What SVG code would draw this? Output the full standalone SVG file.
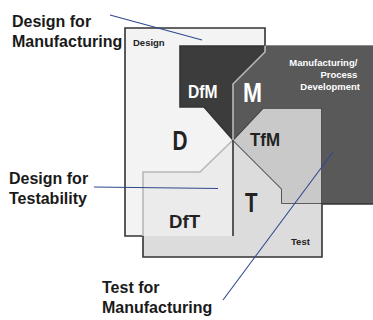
<svg xmlns="http://www.w3.org/2000/svg" width="373" height="320" viewBox="0 0 373 320">
<style>
.lbl{font-family:"Liberation Sans",Arial,sans-serif;font-weight:bold;font-size:16px;fill:#1a1a1a}
.big{font-family:"Liberation Sans",Arial,sans-serif;font-weight:bold;fill:#222}
.sm{font-family:"Liberation Sans",Arial,sans-serif;font-weight:bold;font-size:9.5px;fill:#222}
.wh{fill:#fff}
.edge{fill:none;stroke:#333;stroke-width:1.6;stroke-linejoin:miter}
.soft{fill:none;stroke:#b8b8b8;stroke-width:1.6}
.conn{fill:none;stroke:#2c4a8c;stroke-width:1.1}
</style>
<g id="design">
<polygon points="125,28 265,28 265,46 180,46 180,107 204,107 233,140 200,172 143,172 143,236 125,236" fill="#f3f3f3"/>
<polyline class="edge" points="265,46 265,28 125,28 125,236 233,236 233,140"/>
<text class="sm" x="133" y="46" font-size="10">Design</text>
<text class="big" x="172.5" y="150" font-size="27" textLength="15" lengthAdjust="spacingAndGlyphs">D</text>
</g>
<g id="dft">
<polygon points="143,172 200,172 233,140 233,236 143,236" fill="#ebebeb"/>
<polyline class="soft" points="233,140 200,172 143,172 143,236"/>
<text class="big" x="169" y="228" font-size="19" textLength="31" lengthAdjust="spacingAndGlyphs">DfT</text>
</g>
<g id="test">
<polygon points="233,140 282,188 282,203 322,203 322,257 143,257 143,236 233,236" fill="#dcdcdc"/>
<polyline class="edge" points="143,236 143,257 322,257 322,203"/>
<polyline class="edge" points="233,140 282,189 282,203 322,203"/>
<polyline class="edge" points="233,140 233,236"/>
<text class="big" x="245" y="211.5" font-size="27" textLength="12.5" lengthAdjust="spacingAndGlyphs">T</text>
<text class="sm" x="291" y="245">Test</text>
</g>
<g id="tfm">
<polygon points="233,140 263,108 322,108 322,203 282,203 282,189" fill="#c9c9c9"/>
<polyline class="edge" points="233,140 263,108 322,108 322,203"/>
<text class="big" x="250" y="146" font-size="18.5" textLength="30" lengthAdjust="spacingAndGlyphs">TfM</text>
</g>
<g id="manufacturing">
<polygon points="265,46 373,46 373,204 322,204 322,108 263,108 233,140 233,84 265,52" fill="#595959"/>
<polyline fill="none" stroke="#8a8a8a" stroke-width="1" points="265,45.5 373,45.5"/>
<polyline class="edge" points="322,204 373,204"/>
<text class="big wh" x="243" y="102" font-size="27" textLength="19" lengthAdjust="spacingAndGlyphs">M</text>
<text class="sm wh" text-anchor="end" font-size="9">
<tspan x="360" y="66">Manufacturing/</tspan>
<tspan x="360" y="78">Process</tspan>
<tspan x="360" y="90">Development</tspan>
</text>
</g>
<g id="dfm">
<polygon points="180,46 265,46 265,52 233,84 233,140 204,107 180,107" fill="#3c3c3c"/>
<polyline class="edge" points="265,46 180,46 180,107 204,107 233,140"/>
<polyline class="soft" points="265,46 265,52 233,84 233,140"/>
<text class="big wh" x="188" y="97.5" font-size="18" textLength="29.5" lengthAdjust="spacingAndGlyphs">DfM</text>
</g>
<g id="connectors">
<line class="conn" x1="110" y1="15" x2="202" y2="40"/>
<line class="conn" x1="94" y1="187" x2="218" y2="188.5"/>
<line class="conn" x1="223" y1="300" x2="333" y2="152"/>
</g>
<g id="labels">
<text class="lbl"><tspan x="12" y="27">Design for</tspan><tspan x="12" y="47">Manufacturing</tspan></text>
<text class="lbl"><tspan x="9" y="184">Design for</tspan><tspan x="9" y="204">Testability</tspan></text>
<text class="lbl"><tspan x="102" y="293">Test for</tspan><tspan x="102" y="313">Manufacturing</tspan></text>
</g>
</svg>
